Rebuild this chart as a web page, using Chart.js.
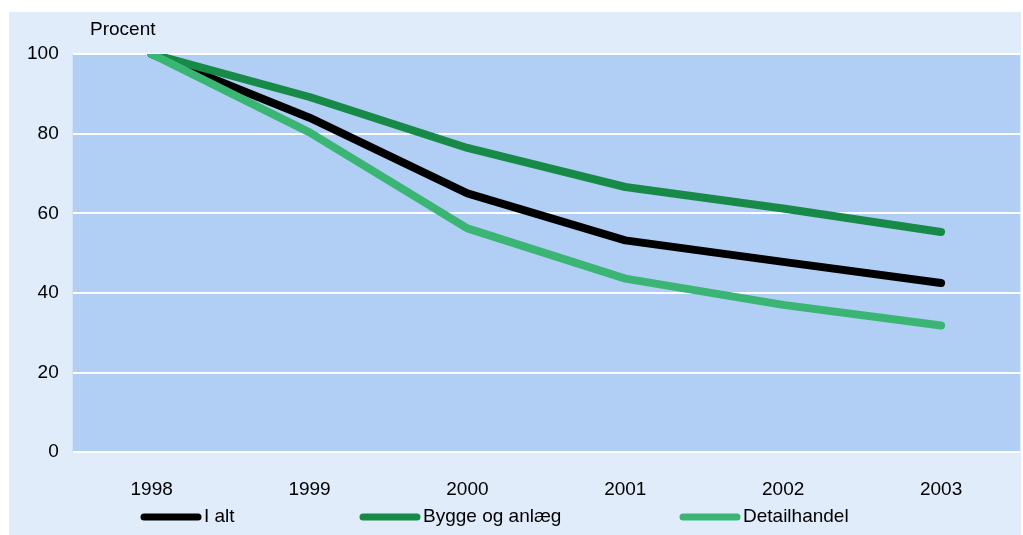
<!DOCTYPE html>
<html>
<head>
<meta charset="utf-8">
<script src="https://cdn.jsdelivr.net/npm/chart.js@4/dist/chart.umd.min.js"></script>
<style>
  html, body { margin: 0; padding: 0; background: #fff; }
  #wrap { position: absolute; left: 9px; top: 12px; width: 1012px; height: 523px; background: #E0ECFA; }
</style>
</head>
<body>
<div id="wrap"><canvas id="chart" width="1012" height="523"></canvas></div>
<script>
var years = ["1998", "1999", "2000", "2001", "2002", "2003"];
var iAlt = [100, 84, 65, 53.2, 47.8, 42.5];
var bygge = [100, 89.2, 76.4, 66.6, 61.2, 55.3];
var detail = [100, 80.3, 56.2, 43.6, 37, 31.8];
var seriesNames = ["I alt", "Bygge og anlæg", "Detailhandel"];
var seriesColors = ["#000000", "#188A48", "#3AB574"];

var FONT = "'Liberation Sans', Arial, sans-serif";

// plot background + "Procent" label + legend row at the bottom
var decor = {
    id: 'decor',
    beforeDraw: function (chart) {
        var a = chart.chartArea, ctx = chart.ctx;
        ctx.save();
        ctx.fillStyle = '#B1CEF5';
        ctx.fillRect(a.left, a.top, a.right - a.left, a.bottom - a.top);
        ctx.restore();
    },
    afterDraw: function (chart) {
        var ctx = chart.ctx;
        ctx.save();
        ctx.font = '19px ' + FONT;
        ctx.fillStyle = '#000';
        ctx.textBaseline = 'middle';
        ctx.textAlign = 'left';
        ctx.fillText('Procent', 81, 18);

        var xs = [132, 351, 671];
        chart.data.datasets.forEach(function (ds, i) {
            ctx.strokeStyle = ds.borderColor;
            ctx.lineWidth = 7;
            ctx.lineCap = 'round';
            ctx.beginPath();
            ctx.moveTo(xs[i] + 3, 505);
            ctx.lineTo(xs[i] + 57, 505);
            ctx.stroke();
            ctx.fillText(ds.label, xs[i] + 63, 505);
        });
        ctx.restore();
    }
};

new Chart(document.getElementById("chart"), {
    type: 'line',
    data: {
        labels: years,
        datasets: [
            {label: seriesNames[0], data: iAlt, borderColor: seriesColors[0], order: 3},
            {label: seriesNames[1], data: bygge, borderColor: seriesColors[1], order: 2},
            {label: seriesNames[2], data: detail, borderColor: seriesColors[2], order: 1}
        ]
    },
    options: {
        responsive: false,
        devicePixelRatio: 1,
        animation: false,
        layout: {padding: {left: 4, right: 1, top: 42, bottom: 8}},
        elements: {
            line: {borderWidth: 8, tension: 0, borderCapStyle: 'round', borderJoinStyle: 'round', fill: false},
            point: {radius: 0, hoverRadius: 0}
        },
        scales: {
            x: {
                offset: true,
                grid: {display: false, drawTicks: false},
                border: {display: false},
                ticks: {color: '#000', padding: 26, font: {family: FONT, size: 19}}
            },
            y: {
                min: 0,
                max: 100,
                border: {display: false},
                grid: {color: '#ffffff', lineWidth: 2, drawTicks: false},
                ticks: {stepSize: 20, color: '#000', padding: 14, font: {family: FONT, size: 19}}
            }
        },
        plugins: {
            legend: {display: false},
            title: {display: false},
            tooltip: {enabled: false}
        }
    },
    plugins: [decor]
});
</script>
</body>
</html>
